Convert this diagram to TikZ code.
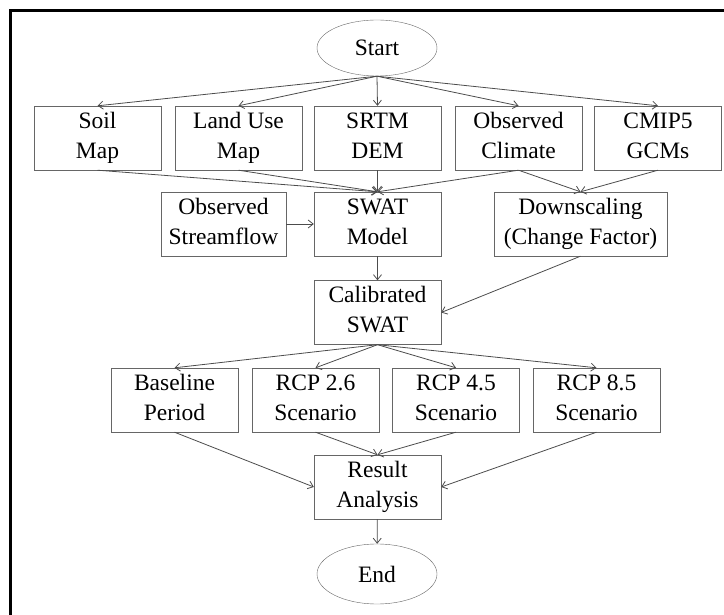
\documentclass[tikz,border=0pt]{standalone}
\usepackage{fontspec}
\setmainfont{Liberation Serif}
\usetikzlibrary{shapes.geometric,arrows.meta}
\tikzset{
  box/.style={draw=black!60, rectangle, minimum width=127pt, minimum height=64pt,
    inner sep=0pt, align=center, font=\fontsize{23.5}{30}\selectfont,
    execute at begin node={\rule{0pt}{28.5pt}},
    execute at end node={\rule[-5.5pt]{0pt}{5.5pt}}},
  term/.style={draw=black!60, ellipse, minimum width=120pt, minimum height=56pt,
    inner sep=0pt, font=\fontsize{23.5}{30}\selectfont},
  link/.style={draw=black!70, line width=0.8pt, -{Straight Barb[length=5pt,width=8pt]}}
}

\begin{document}
\begin{tikzpicture}[x=1pt,y=-1pt]
  \useasboundingbox (0,0) rectangle (724,615);
  \draw[line width=3pt] (10,615) -- (10,11) -- (724,11);

  \node[term] (start) at (377,48) {Start};
  \node[box] (soil) at (97.5,138) {Soil\\Map};
  \node[box] (land) at (238.5,138) {Land Use\\Map};
  \node[box] (srtm) at (377.5,138) {SRTM\\DEM};
  \node[box] (climate) at (518.5,138) {Observed\\Climate};
  \node[box] (cmip) at (658,138) {CMIP5\\GCMs};
  \node[box, minimum width=125pt] (flow) at (223.5,224) {Observed\\Streamflow};
  \node[box] (swat) at (377.5,224) {SWAT\\Model};
  \node[box, minimum width=173pt] (down) at (580.5,224) {Downscaling\\(Change Factor)};
  \node[box] (calib) at (377.5,312.5) {Calibrated\\SWAT};
  \node[box] (base) at (174.5,400) {Baseline\\Period};
  \node[box] (rcpa) at (315.5,400) {RCP 2.6\\Scenario};
  \node[box] (rcpb) at (456,400) {RCP 4.5\\Scenario};
  \node[box] (rcpc) at (596.5,400) {RCP 8.5\\Scenario};
  \node[box] (result) at (377.5,487) {Result\\Analysis};
  \node[term, minimum height=60pt] (stop) at (377,574) {End};

  \foreach \n in {soil,land,srtm,climate,cmip}
    \draw[link] (start.south) -- (\n.north);
  \foreach \n in {soil,land,srtm,climate}
    \draw[link] (\n.south) -- (swat.north);
  \draw[link] (climate.south) -- (down.north);
  \draw[link] (cmip.south) -- (down.north);
  \draw[link] (flow) -- (swat);
  \draw[link] (swat) -- (calib);
  \draw[link] (down.south) -- (calib.east);
  \foreach \n in {base,rcpa,rcpb,rcpc}
    \draw[link] (calib.south) -- (\n.north);
  \draw[link] (base.south) -- (result.west);
  \draw[link] (rcpa.south) -- (result.north);
  \draw[link] (rcpb.south) -- (result.north);
  \draw[link] (rcpc.south) -- (result.east);
  \draw[link] (result) -- (stop);
\end{tikzpicture}
\end{document}
